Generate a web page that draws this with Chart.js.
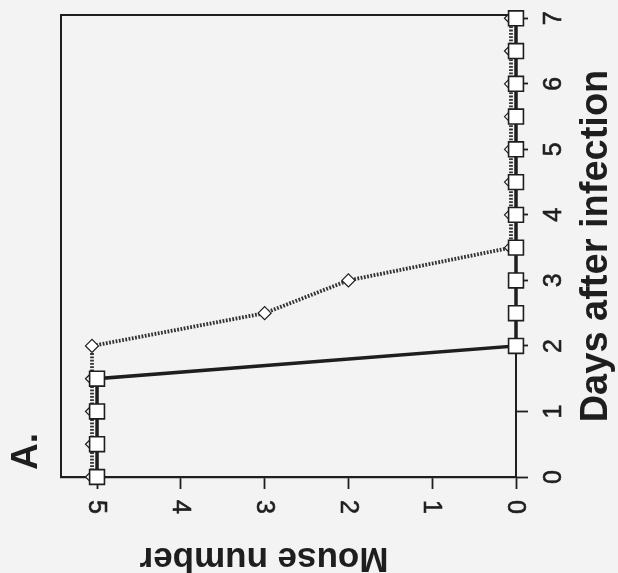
<!DOCTYPE html>
<html><head><meta charset="utf-8">
<script src="https://cdn.jsdelivr.net/npm/chart.js@4.4.1/dist/chart.umd.min.js"></script>
<style>html,body{margin:0;padding:0;background:#f3f3f3;}#wrap{width:618px;height:573px;position:relative;}</style>
</head><body><div id="wrap"><canvas id="c"></canvas></div>
<script>
// Days after infection (vertical axis) and mouse number (horizontal, reversed axis)
const days = [0, 0.5, 1, 1.5, 2, 2.5, 3, 3.5, 4, 4.5, 5, 5.5, 6, 6.5, 7];
const miceSolid = [5, 5, 5, 5, 0, 0, 0, 0, 0, 0, 0, 0, 0, 0, 0];
const miceHatched = [5.06, 5.06, 5.06, 5.06, 5.06, 3, 2, 0.06, 0.06, 0.06, 0.06, 0.06, 0.06, 0.06, 0.06];
const mouseTicks = [0, 1, 2, 3, 4, 5];
const dayTicks = [0, 1, 2, 3, 4, 5, 6, 7];
const mouseTitle = 'Mouse number';
const dayTitle = 'Days after infection';
const panelLabel = 'A.';

const FONT = '"Liberation Sans", Arial, Helvetica, sans-serif';
const INK = '#1e1e1e';

const toPoints = (xs) => xs.map((v, i) => ({ x: v, y: days[i] }));

const textPlugin = {
  id: 'rotatedTexts',
  beforeDatasetsDraw(chart) {
    const { ctx, chartArea: a } = chart;
    ctx.save();
    ctx.strokeStyle = INK;
    ctx.lineWidth = 2;
    ctx.beginPath();
    ctx.moveTo(a.left, a.bottom);
    ctx.lineTo(a.left, a.top);
    ctx.lineTo(a.right, a.top);
    ctx.stroke();
    ctx.restore();
  },
  afterDraw(chart) {
    const { ctx, chartArea: a } = chart;
    const xs = chart.scales.x, ys = chart.scales.y;
    ctx.save();
    ctx.fillStyle = INK;
    ctx.strokeStyle = INK;
    ctx.lineWidth = 0.6;
    ctx.textAlign = 'center';
    ctx.textBaseline = 'middle';
    ctx.font = '25px ' + FONT;
    xs.ticks.forEach(t => {
      const px = xs.getPixelForValue(t.value);
      ctx.save();
      ctx.translate(px, a.bottom + 30);
      ctx.rotate(Math.PI / 2);
      ctx.fillText(String(t.value), 0, 1);
      ctx.strokeText(String(t.value), 0, 1);
      ctx.restore();
    });
    ys.ticks.forEach(t => {
      const py = ys.getPixelForValue(t.value);
      ctx.save();
      ctx.translate(a.right + 37, py);
      ctx.rotate(-Math.PI / 2);
      ctx.fillText(String(t.value), 0, 1);
      ctx.strokeText(String(t.value), 0, 1);
      ctx.restore();
    });
    // axis titles
    ctx.font = 'bold 38px ' + FONT;
    ctx.textBaseline = 'alphabetic';
    ctx.save();
    ctx.translate(a.right + 91, (a.top + a.bottom) / 2);
    ctx.rotate(-Math.PI / 2);
    ctx.fillText(dayTitle, 0, 0);
    ctx.restore();

    ctx.font = 'bold 35px ' + FONT;
    ctx.save();
    ctx.translate(a.left + 203, a.bottom + 71);
    ctx.rotate(Math.PI);
    ctx.fillText(mouseTitle, 0, 0);
    ctx.restore();

    ctx.font = 'bold 37px ' + FONT;
    ctx.textAlign = 'left';
    ctx.save();
    ctx.translate(a.left - 24, a.bottom - 7);
    ctx.rotate(-Math.PI / 2);
    ctx.fillText(panelLabel, 0, 0);
    ctx.restore();
    ctx.restore();
  }
};

new Chart(document.getElementById('c'), {
  type: 'line',
  data: {
    datasets: [
      {
        label: 'solid',
        data: toPoints(miceSolid),
        borderColor: INK,
        borderWidth: 3.5,
        pointStyle: 'rect',
        pointRadius: 10.5,
        pointBackgroundColor: '#ffffff',
        pointBorderColor: INK,
        pointBorderWidth: 1.6,
        tension: 0,
        clip: false
      },
      {
        label: 'hatched',
        data: toPoints(miceHatched),
        borderColor: '#333333',
        borderWidth: 3.8,
        borderDash: [1.8, 1.5],
        pointStyle: 'rectRot',
        pointRadius: 6.5,
        pointBackgroundColor: '#ffffff',
        pointBorderColor: INK,
        pointBorderWidth: 1.2,
        tension: 0,
        clip: false
      }
    ]
  },
  options: {
    responsive: true,
    maintainAspectRatio: false,
    animation: false,
    layout: { padding: { left: 61, top: 15, right: 0, bottom: 0 } },
    plugins: { legend: { display: false }, tooltip: { enabled: false } },
    scales: {
      x: {
        type: 'linear',
        position: 'bottom',
        reverse: true,
        min: 0,
        max: 5.43,
        afterBuildTicks: s => { s.ticks = mouseTicks.map(v => ({ value: v })); },
        afterFit: s => { s.height = 96; },
        ticks: { display: false },
        grid: { display: true, drawOnChartArea: false, drawTicks: true, tickLength: 12, tickColor: INK, tickWidth: 1.8 },
        border: { display: true, color: INK, width: 2.2 }
      },
      y: {
        type: 'linear',
        position: 'right',
        min: 0,
        max: 7.05,
        afterBuildTicks: s => { s.ticks = dayTicks.map(v => ({ value: v })); },
        afterFit: s => { s.width = 102; },
        ticks: { display: false },
        grid: { display: true, drawOnChartArea: false, drawTicks: true, tickLength: 12, tickColor: INK, tickWidth: 1.8 },
        border: { display: true, color: INK, width: 2 }
      }
    }
  },
  plugins: [textPlugin]
});
</script>
</body></html>
